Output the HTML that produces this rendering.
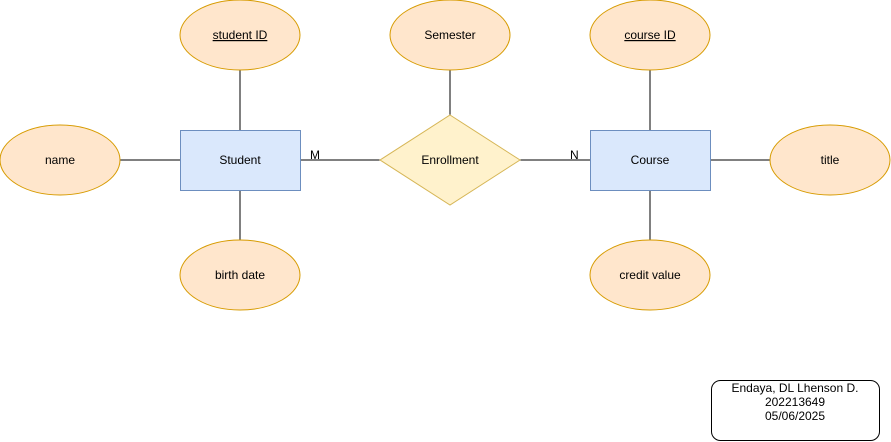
<!DOCTYPE html>
<html><head><style>body{margin:0;background:#fff}svg{display:block}text{font-family:"Liberation Sans",sans-serif;font-size:12px;fill:#000}</style></head>
<body>
<svg width="891" height="442" viewBox="0 0 891 442" xmlns="http://www.w3.org/2000/svg">
<g stroke="#000" stroke-width="1">
<line x1="120" y1="160" x2="180" y2="160"/>
<line x1="300" y1="160" x2="380" y2="160"/>
<line x1="520" y1="160" x2="590" y2="160"/>
<line x1="710" y1="160" x2="770" y2="160"/>
<line x1="240" y1="70" x2="240" y2="130"/>
<line x1="240" y1="190" x2="240" y2="245"/>
<line x1="450" y1="70" x2="450" y2="115"/>
<line x1="650" y1="70" x2="650" y2="130"/>
<line x1="650" y1="190" x2="650" y2="240"/>
</g>
<g fill="#ffe6cc" stroke="#d79b00">
<ellipse cx="240" cy="35" rx="60" ry="35"/>
<ellipse cx="450" cy="35" rx="60" ry="35"/>
<ellipse cx="650" cy="35" rx="60" ry="35"/>
<ellipse cx="60" cy="160" rx="60" ry="35"/>
<ellipse cx="830" cy="160" rx="60" ry="35"/>
<ellipse cx="240" cy="275" rx="60" ry="35"/>
<ellipse cx="650" cy="275" rx="60" ry="35"/>
</g>
<rect x="180.5" y="130.5" width="120" height="60" fill="#dae8fc" stroke="#6c8ebf"/>
<rect x="590.5" y="130.5" width="120" height="60" fill="#dae8fc" stroke="#6c8ebf"/>
<polygon points="450,115 520,160 450,205 380,160" fill="#fff2cc" stroke="#d6b656"/>
<rect x="711.5" y="380.5" width="168" height="60" rx="9" fill="#fff" stroke="#000"/>
<g text-anchor="middle">
<text x="240" y="39" text-decoration="underline">student ID</text>
<text x="450" y="39">Semester</text>
<text x="650" y="39" text-decoration="underline">course ID</text>
<text x="60" y="164">name</text>
<text x="830" y="164">title</text>
<text x="240" y="164">Student</text>
<text x="650" y="164">Course</text>
<text x="450" y="164">Enrollment</text>
<text x="240" y="279">birth date</text>
<text x="650" y="279">credit value</text>
<text x="795" y="392">Endaya, DL Lhenson D.</text>
<text x="795" y="406">202213649</text>
<text x="795" y="420">05/06/2025</text>
</g>
<text x="310" y="159">M</text>
<text x="570" y="159">N</text>
</svg>
</body></html>
